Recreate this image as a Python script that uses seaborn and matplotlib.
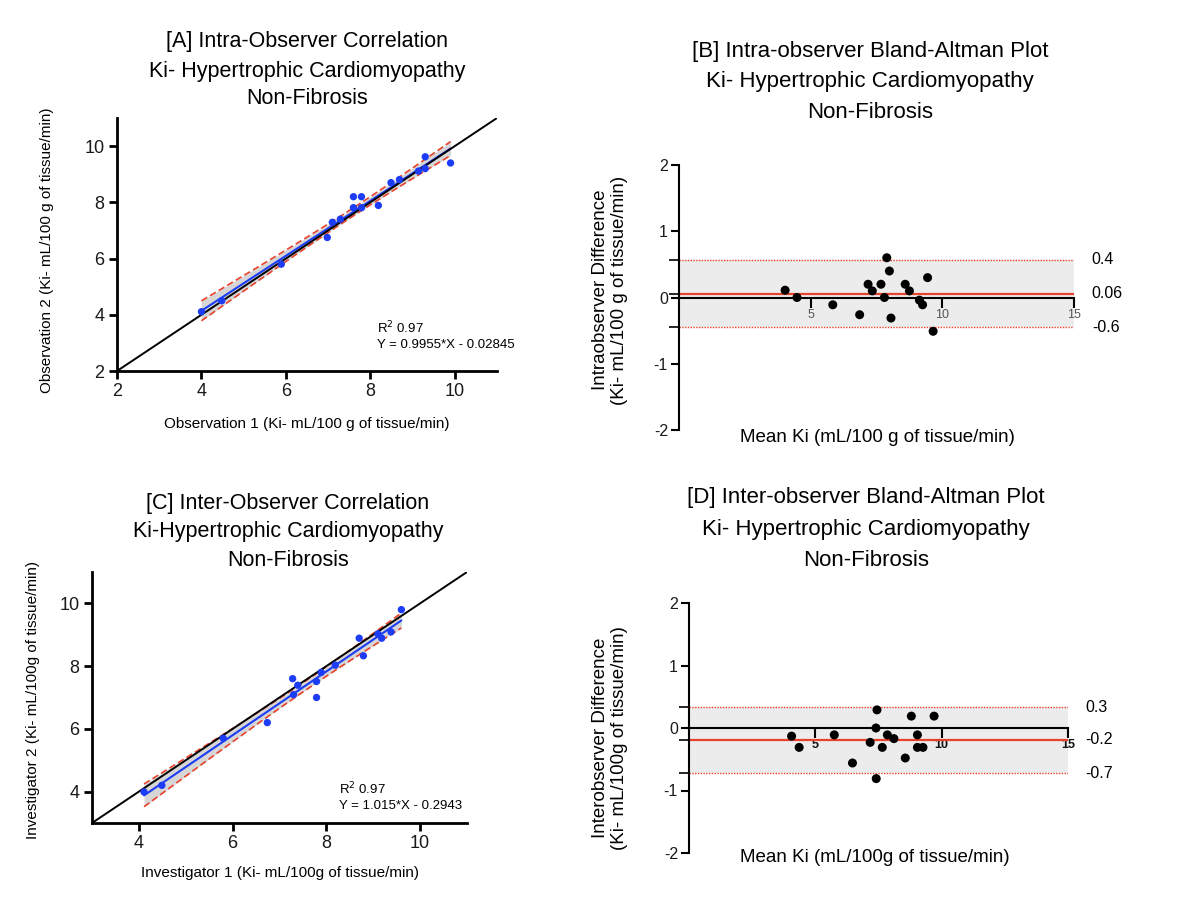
import numpy as np
import pandas as pd
import matplotlib
matplotlib.use("Agg")
import matplotlib.pyplot as plt
import matplotlib.transforms as mtransforms
import seaborn as sns

# ---------------- data ----------------
# [A] intra-observer correlation
obs1 = [4.00, 4.48, 5.89, 6.98, 7.10, 7.29, 7.60, 7.60, 7.79, 7.79, 8.19, 8.49, 8.69, 9.14, 9.30, 9.30, 9.90]
obs2 = [4.11, 4.50, 5.80, 6.75, 7.29, 7.40, 8.20, 7.81, 8.20, 7.81, 7.89, 8.70, 8.81, 9.11, 9.62, 9.20, 9.40]
r2_a = "0.97"
eq_a = "Y = 0.9955*X - 0.02845"

# [B] intra-observer Bland-Altman
mean_b = [4.03, 4.48, 5.84, 6.86, 7.18, 7.34, 7.67, 7.80, 7.89, 7.99, 8.05, 8.59, 8.75, 9.13, 9.25, 9.44, 9.65]
diff_b = [0.11, 0.00, -0.11, -0.26, 0.20, 0.10, 0.20, 0.00, 0.60, 0.40, -0.31, 0.20, 0.10, -0.04, -0.11, 0.30, -0.51]
bias_b, lo_b, hi_b = 0.06, -0.45, 0.57
labels_b = ["0.4", "0.06", "-0.6"]

# [C] inter-observer correlation
inv1 = [4.11, 4.49, 5.80, 6.74, 7.28, 7.39, 7.30, 7.79, 7.79, 7.89, 8.19, 8.70, 8.79, 9.10, 9.18, 9.38, 9.60]
inv2 = [3.99, 4.20, 5.70, 6.20, 7.60, 7.39, 7.09, 7.51, 7.00, 7.80, 8.03, 8.89, 8.33, 9.03, 8.89, 9.09, 9.80]
r2_c = "0.97"
eq_c = "Y = 1.015*X - 0.2943"

# [D] inter-observer Bland-Altman
mean_d = [4.06, 4.36, 5.75, 6.47, 7.17, 7.40, 7.44, 7.41, 7.65, 7.85, 8.11, 8.56, 8.80, 9.04, 9.04, 9.26, 9.70]
diff_d = [-0.13, -0.31, -0.11, -0.56, -0.23, 0.00, 0.29, -0.81, -0.31, -0.11, -0.17, -0.48, 0.19, -0.11, -0.31, -0.31, 0.19]
bias_d, lo_d, hi_d = -0.19, -0.72, 0.335
labels_d = ["0.3", "-0.2", "-0.7"]

T_CRIT = 2.131  # t(0.975, df=15)

# ---------------- style ----------------
sns.set_style("ticks")
plt.rcParams["font.family"] = ["Liberation Sans", "DejaVu Sans"]
plt.rcParams["axes.unicode_minus"] = False
plt.rcParams["text.color"] = "black"

W, H = 1204, 909
fig = plt.figure(figsize=(W / 100, H / 100), dpi=100)


def ftext(xp, yp, s, **kw):
    fig.text(xp / W, 1 - yp / H, s, color="black", **kw)


def axes_px(x0, x1, y_top, y_bot):
    return fig.add_axes([x0 / W, 1 - y_bot / H, (x1 - x0) / W, (y_bot - y_top) / H])


BLUE = "#1c3cf5"
RED = "#e8422c"


def corr_panel(ax, x, y, lims, ticks, r2, eq, txt_xy):
    x = np.asarray(x, float)
    y = np.asarray(y, float)
    slope, icpt = np.polyfit(x, y, 1)
    n = len(x)
    resid = y - (slope * x + icpt)
    s = np.sqrt(np.sum(resid ** 2) / (n - 2))
    sxx = np.sum((x - x.mean()) ** 2)
    xs = np.linspace(x.min(), x.max(), 200)
    yhat = slope * xs + icpt
    se = s * np.sqrt(1 / n + (xs - x.mean()) ** 2 / sxx)
    lo, hi = yhat - T_CRIT * se, yhat + T_CRIT * se
    ax.fill_between(xs, lo, hi, color="#d6d6d6", lw=0, zorder=1)
    ax.plot(xs, lo, color=RED, lw=1.2, ls=(0, (4, 2)), zorder=2)
    ax.plot(xs, hi, color=RED, lw=1.2, ls=(0, (4, 2)), zorder=2)
    ax.plot(xs, yhat, color=BLUE, lw=1.5, zorder=3)
    ax.axline((0, 0), slope=1, color="black", lw=1.4, zorder=4)
    sns.scatterplot(x=x, y=y, ax=ax, color=BLUE, s=28, edgecolor="none", zorder=5, legend=False)
    ax.set_xlim(*lims)
    ax.set_ylim(*lims)
    ax.set_xticks(ticks)
    ax.set_yticks(ticks)
    for sp in ["top", "right"]:
        ax.spines[sp].set_visible(False)
    for sp in ["left", "bottom"]:
        ax.spines[sp].set_linewidth(2)
        ax.spines[sp].set_color("black")
    ax.tick_params(direction="out", length=6, width=2, labelsize=13, labelcolor="#1a1a1a",
                   color="black", pad=3)
    ax.set_xlabel("")
    ax.set_ylabel("")
    tx, ty = txt_xy
    ax.text(tx, ty, "R$^2$ " + r2, transform=ax.transAxes, fontsize=9.5, ha="left", va="center")
    ax.text(tx, ty - 0.068, eq, transform=ax.transAxes, fontsize=9.5, ha="left", va="center")


def ba_panel(ax, m, d, bias, lo, hi, labels, xlab_color, xlab_weight):
    ax.axhspan(lo, hi, color="#ececec", lw=0, zorder=0)
    ax.axhline(hi, color=RED, lw=1.0, ls=(0, (1, 1)), zorder=1)
    ax.axhline(lo, color=RED, lw=1.0, ls=(0, (1, 1)), zorder=1)
    ax.axhline(bias, color=RED, lw=1.6, zorder=2)
    sns.scatterplot(x=m, y=d, ax=ax, color="black", s=42, edgecolor="none", zorder=5, legend=False)
    ax.set_xlim(0, 15)
    ax.set_ylim(-2, 2)
    for sp in ["top", "right"]:
        ax.spines[sp].set_visible(False)
    ax.spines["bottom"].set_position(("data", 0))
    for sp in ["left", "bottom"]:
        ax.spines[sp].set_linewidth(1.5)
        ax.spines[sp].set_color("black")
    ax.spines["bottom"].set_zorder(3)
    ax.set_xticks([5, 10, 15])
    ax.set_xticklabels(["5", "10", "15"])
    ax.set_yticks([-2, -1, 0, 1, 2])
    ax.set_yticklabels(["-2", "-1", "0", "1", "2"])
    ax.set_yticks([lo, bias, hi], minor=True)
    ax.tick_params(axis="x", direction="out", length=7, width=1.5, labelsize=9,
                   labelcolor=xlab_color, color="black", pad=1)
    for t in ax.get_xticklabels():
        t.set_fontweight(xlab_weight)
    ax.tick_params(axis="y", which="major", direction="out", length=6, width=1.5,
                   labelsize=11.5, labelcolor="#1a1a1a", color="black", pad=2)
    ax.tick_params(axis="y", which="minor", direction="out", length=7, width=1.2, color="black")
    ax.set_xlabel("")
    ax.set_ylabel("")
    tr = mtransforms.blended_transform_factory(ax.transAxes, ax.transData)
    for val, lab in zip([hi, bias, lo], labels):
        ax.text(1.045, val, lab, transform=tr, fontsize=11.5, ha="left", va="center", clip_on=False)


# ---------------- panel A ----------------
axA = axes_px(117, 497, 118, 371)
corr_panel(axA, obs1, obs2, (2, 11), [2, 4, 6, 8, 10], r2_a, eq_a, (0.685, 0.17))
ftext(307, 42, "[A] Intra-Observer Correlation", ha="center", va="center", fontsize=15.5)
ftext(307, 71, "Ki- Hypertrophic Cardiomyopathy", ha="center", va="center", fontsize=15.5)
ftext(307, 99, "Non-Fibrosis", ha="center", va="center", fontsize=15.5)
ftext(307, 424, "Observation 1 (Ki- mL/100 g of tissue/min)", ha="center", va="center", fontsize=11)
ftext(47, 250, "Observation 2 (Ki- mL/100 g of tissue/min)", ha="center", va="center",
      fontsize=11, rotation=90)

# ---------------- panel B ----------------
axB = axes_px(679, 1074, 165, 430)
ba_panel(axB, mean_b, diff_b, bias_b, lo_b, hi_b, labels_b, "#555555", "normal")
ftext(870, 51, "[B] Intra-observer Bland-Altman Plot", ha="center", va="center", fontsize=16)
ftext(870, 82, "Ki- Hypertrophic Cardiomyopathy", ha="center", va="center", fontsize=16)
ftext(870, 112, "Non-Fibrosis", ha="center", va="center", fontsize=16)
ftext(877, 437, "Mean Ki (mL/100 g of tissue/min)", ha="center", va="center", fontsize=13.5)
ftext(610, 290, "Intraobserver Difference\n(Ki- mL/100 g of tissue/min)", ha="center", va="center",
      fontsize=13.5, rotation=90, multialignment="center", linespacing=1.2)

# ---------------- panel C ----------------
axC = axes_px(92, 467, 572, 823)
corr_panel(axC, inv1, inv2, (3, 11), [4, 6, 8, 10], r2_c, eq_c, (0.658, 0.135))
ftext(288, 503, "[C] Inter-Observer Correlation", ha="center", va="center", fontsize=15.5)
ftext(288, 532, "Ki-Hypertrophic Cardiomyopathy", ha="center", va="center", fontsize=15.5)
ftext(288, 561, "Non-Fibrosis", ha="center", va="center", fontsize=15.5)
ftext(280, 873, "Investigator 1 (Ki- mL/100g of tissue/min)", ha="center", va="center", fontsize=11)
ftext(33, 700, "Investigator 2 (Ki- mL/100g of tissue/min)", ha="center", va="center",
      fontsize=11, rotation=90)

# ---------------- panel D ----------------
axD = axes_px(689, 1068, 603, 853)
ba_panel(axD, mean_d, diff_d, bias_d, lo_d, hi_d, labels_d, "#111111", "bold")
ftext(866, 497, "[D] Inter-observer Bland-Altman Plot", ha="center", va="center", fontsize=16)
ftext(866, 529, "Ki- Hypertrophic Cardiomyopathy", ha="center", va="center", fontsize=16)
ftext(866, 561, "Non-Fibrosis", ha="center", va="center", fontsize=16)
ftext(875, 858, "Mean Ki (mL/100g of tissue/min)", ha="center", va="center", fontsize=13.5)
ftext(610, 738, "Interobserver Difference\n(Ki- mL/100g of tissue/min)", ha="center", va="center",
      fontsize=13.5, rotation=90, multialignment="center", linespacing=1.2)

fig.savefig("out.png", dpi=100)
